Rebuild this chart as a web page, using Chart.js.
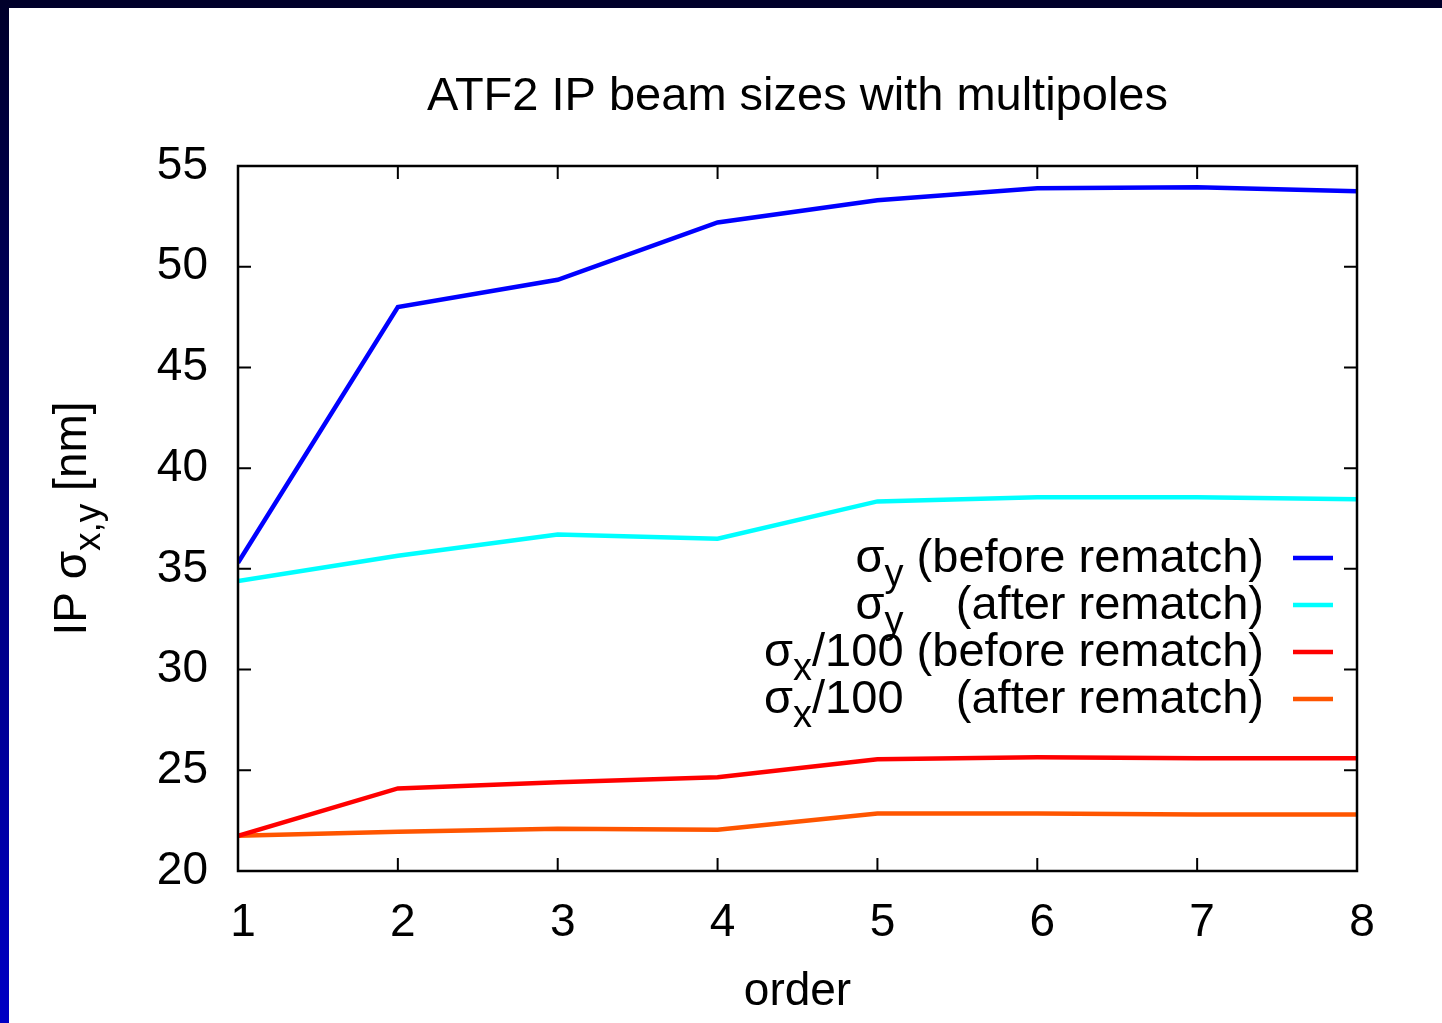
<!DOCTYPE html>
<html>
<head>
<meta charset="utf-8">
<script src="https://cdn.jsdelivr.net/npm/chart.js@4/dist/chart.umd.min.js"></script>
<style>
    html, body { margin: 0; padding: 0; width: 1442px; height: 1023px; overflow: hidden; }
    body { background: linear-gradient(to bottom, #00002a, #0000c4); }
    #frame { position: absolute; left: 9px; top: 8px; width: 1433px; height: 1015px; background: #fff; }
</style>
</head>
<body>
<div id="frame"><canvas id="beam-sizes" width="1433" height="1015"></canvas></div>
<script>
// values
const orders = [1, 2, 3, 4, 5, 6, 7, 8];
const sigmaYBefore = [35.3, 48.0, 49.35, 52.2, 53.3, 53.9, 53.95, 53.75];
const sigmaYAfter = [34.4, 35.65, 36.7, 36.5, 38.35, 38.55, 38.55, 38.45];
const sigmaXBefore = [21.75, 24.1, 24.4, 24.65, 25.55, 25.65, 25.6, 25.6];
const sigmaXAfter = [21.75, 21.95, 22.1, 22.05, 22.85, 22.85, 22.8, 22.8];
const xTicks = [1, 2, 3, 4, 5, 6, 7, 8];
const yTicks = [20, 25, 30, 35, 40, 45, 50, 55];

const FONT = "'Liberation Sans', Arial, sans-serif";
Chart.defaults.font.family = FONT;
Chart.defaults.color = '#000';

function points(values) {
    return orders.map(function (o, i) { return { x: o, y: values[i] }; });
}

// draw a run of text pieces, some of them subscripts
function drawParts(ctx, parts, x, y, size) {
    parts.forEach(function (p) {
        const s = p.sub ? Math.round(size * 0.8) : size;
        ctx.font = s + 'px ' + FONT;
        ctx.fillText(p.t, x, y + (p.sub ? 14 : 0));
        x += ctx.measureText(p.t).width;
    });
    return x;
}
function partsWidth(ctx, parts, size) {
    let w = 0;
    parts.forEach(function (p) {
        ctx.font = (p.sub ? Math.round(size * 0.8) : size) + 'px ' + FONT;
        w += ctx.measureText(p.t).width;
    });
    return w;
}

const gnuplotLook = {
    id: 'gnuplotLook',
    afterDatasetsDraw: function (chart) {
        const ctx = chart.ctx;
        const a = chart.chartArea;
        const xs = chart.scales.x, ys = chart.scales.y;
        ctx.save();
        ctx.strokeStyle = '#000';
        ctx.lineWidth = 2.5;
        ctx.strokeRect(a.left, a.top, a.right - a.left, a.bottom - a.top);
        ctx.lineWidth = 2;
        ctx.beginPath();
        xTicks.forEach(function (v) {
            const px = xs.getPixelForValue(v);
            ctx.moveTo(px, a.bottom); ctx.lineTo(px, a.bottom - 13);
            ctx.moveTo(px, a.top); ctx.lineTo(px, a.top + 13);
        });
        yTicks.forEach(function (v) {
            const py = ys.getPixelForValue(v);
            ctx.moveTo(a.left, py); ctx.lineTo(a.left + 13, py);
            ctx.moveTo(a.right, py); ctx.lineTo(a.right - 13, py);
        });
        ctx.stroke();

        ctx.fillStyle = '#000';
        ctx.textBaseline = 'middle';
        ctx.textAlign = 'center';
        ctx.font = '47px ' + FONT;
        ctx.fillText('ATF2 IP beam sizes with multipoles', (a.left + a.right) / 2, 89);

        // y axis title
        const yTitle = [{ t: 'IP σ' }, { t: 'x,y', sub: true }, { t: ' [nm]' }];
        ctx.textAlign = 'left';
        ctx.textBaseline = 'alphabetic';
        ctx.translate(77, (a.top + a.bottom) / 2);
        ctx.rotate(-Math.PI / 2);
        drawParts(ctx, yTitle, -partsWidth(ctx, yTitle, 46) / 2, 0, 46);
        ctx.setTransform(1, 0, 0, 1, 0, 0);

        // legend, right aligned text with line samples
        const textRight = 1255, lineX0 = 1284, lineX1 = 1324;
        const refTail = [{ t: ' (before rematch)' }];
        chart.data.datasets.forEach(function (ds, i) {
            const ly = 550 + i * 47;
            const leftX = textRight - partsWidth(ctx, ds.prefix, 47) - partsWidth(ctx, refTail, 47);
            ctx.textAlign = 'left';
            ctx.fillStyle = '#000';
            drawParts(ctx, ds.prefix, leftX, ly + 14, 47);
            ctx.font = '47px ' + FONT;
            ctx.textAlign = 'right';
            ctx.fillText(ds.tail, textRight, ly + 14);
            ctx.strokeStyle = ds.borderColor;
            ctx.lineWidth = 4.5;
            ctx.beginPath();
            ctx.moveTo(lineX0, ly); ctx.lineTo(lineX1, ly);
            ctx.stroke();
        });
        ctx.restore();
    }
};

function dataset(values, color, prefix, tail) {
    return {
        data: points(values),
        borderColor: color,
        borderWidth: 4.5,
        pointRadius: 0,
        tension: 0,
        fill: false,
        prefix: prefix,
        tail: tail
    };
}

const config = {
    type: 'line',
    data: {
        datasets: [
            dataset(sigmaYBefore, '#0000ff', [{ t: 'σ' }, { t: 'y', sub: true }], '(before rematch)'),
            dataset(sigmaYAfter, '#00ffff', [{ t: 'σ' }, { t: 'y', sub: true }], '(after rematch)'),
            dataset(sigmaXBefore, '#ff0000', [{ t: 'σ' }, { t: 'x', sub: true }, { t: '/100' }], '(before rematch)'),
            dataset(sigmaXAfter, '#ff5500', [{ t: 'σ' }, { t: 'x', sub: true }, { t: '/100' }], '(after rematch)')
        ]
    },
    options: {
        responsive: false,
        animation: false,
        layout: { padding: { top: 158, right: 85, left: 0, bottom: 0 } },
        plugins: {
            legend: { display: false },
            title: { display: false },
            tooltip: { enabled: false }
        },
        scales: {
            x: {
                type: 'linear',
                min: 1,
                max: 8,
                grid: { display: false, drawTicks: false },
                border: { display: false },
                ticks: { stepSize: 1, padding: 25, labelOffset: 5, font: { size: 46 }, color: '#000' },
                title: { display: true, text: 'order', font: { size: 46 }, color: '#000', padding: { top: 0, bottom: 3 } },
                afterFit: function (scale) { scale.height = 152; }
            },
            y: {
                min: 20,
                max: 55,
                grid: { display: false, drawTicks: false },
                border: { display: false },
                ticks: { stepSize: 5, padding: 30, font: { size: 46 }, color: '#000' },
                afterFit: function (scale) { scale.width = 229; }
            }
        }
    },
    plugins: [gnuplotLook]
};

new Chart(document.getElementById('beam-sizes'), config);
</script>
</body>
</html>
